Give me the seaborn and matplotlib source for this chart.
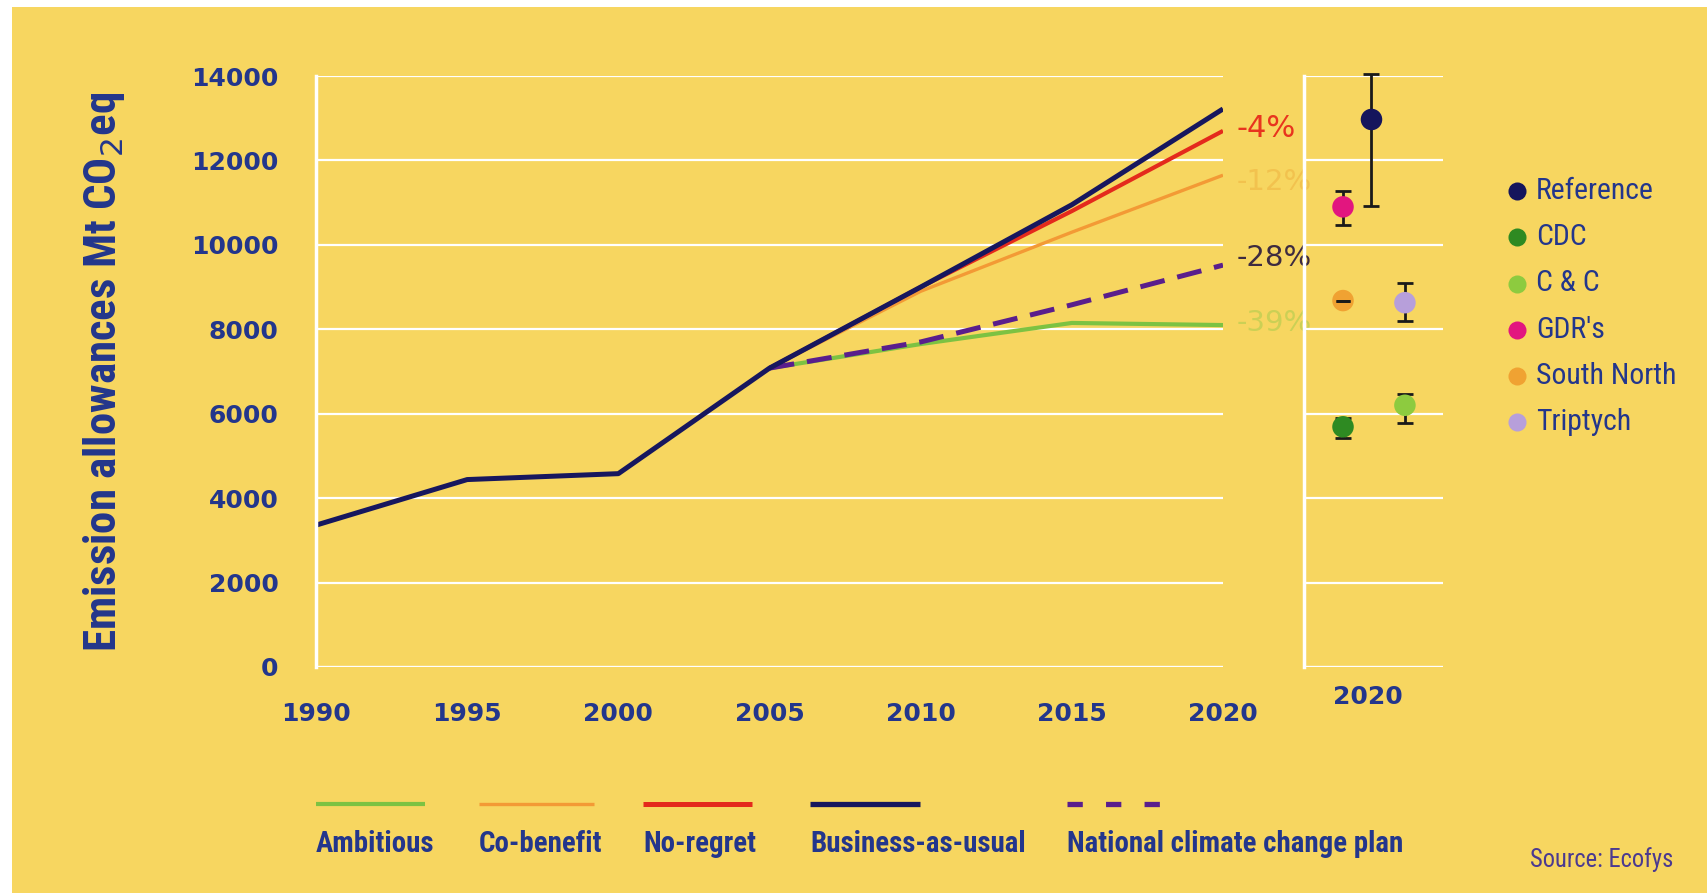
import matplotlib
matplotlib.use("Agg")
import matplotlib.pyplot as plt
from matplotlib.lines import Line2D
from matplotlib.patches import Rectangle
from matplotlib import font_manager
import numpy as np
import pandas as pd
import seaborn as sns

# ---------------- data ----------------
years_hist = [1990, 1995, 2000, 2005, 2010, 2015, 2020]
bau = [3360, 4440, 4580, 7080, 9000, 10950, 13220]
years_scen = [2005, 2010, 2015, 2020]
ambitious = [7080, 7650, 8150, 8100]
co_benefit = [7080, 8900, 10300, 11650]
no_regret = [7080, 9000, 10800, 12700]
national_plan = [7080, 7700, 8580, 9520]

pct_labels = ["-4%", "-12%", "-28%", "-39%"]
pct_values = [12750, 11500, 9700, 8150]

methods = ["GDR's", "South North", "CDC", "Reference", "Triptych", "C & C"]
method_values = [10900, 8680, 5690, 12970, 8630, 6200]
method_low = [10460, 8650, 5420, 10920, 8200, 5770]
method_high = [11280, 8710, 5900, 14050, 9090, 6460]
legend_methods = ["Reference", "CDC", "C & C", "GDR's", "South North", "Triptych"]

y_ticks = [0, 2000, 4000, 6000, 8000, 10000, 12000, 14000]
x_ticks = [1990, 1995, 2000, 2005, 2010, 2015, 2020]

# ---------------- style ----------------
BG = "#F7D660"
BLUE = "#23368C"
col = {
    "Ambitious": "#7DC242",
    "Co-benefit": "#F39A35",
    "No-regret": "#E42A1C",
    "Business-as-usual": "#17175E",
    "National climate change plan": "#5A1E8C",
}
mcol = {
    "Reference": "#15155C",
    "CDC": "#2E8A22",
    "C & C": "#8DCB3F",
    "GDR's": "#E2167F",
    "South North": "#F0A232",
    "Triptych": "#B79FDA",
}

sns.set_theme(style="white")
plt.rcParams["font.family"] = ["DejaVu Sans"]

# pick a condensed family if one is installed
_names = {f.name for f in font_manager.fontManager.ttflist}
COND = "DejaVu Sans"
for cand in ["Liberation Sans Narrow", "Roboto Condensed", "Open Sans Condensed",
             "DejaVu Sans Condensed", "Noto Sans Condensed"]:
    if cand in _names:
        COND = cand
        break

fig = plt.figure(figsize=(17.08, 8.93), dpi=100)
fig.patch.set_facecolor(BG)
fig.patches.append(Rectangle((0, 1 - 7 / 893), 1, 7 / 893, transform=fig.transFigure,
                             facecolor="white", edgecolor="none", zorder=-1))
fig.patches.append(Rectangle((0, 0), 12 / 1708, 1, transform=fig.transFigure,
                             facecolor="white", edgecolor="none", zorder=-1))

W, H = 1708, 893
bottom = 1 - 667 / H
height = (667 - 76) / H
ax = fig.add_axes([316 / W, bottom, (1223 - 316) / W, height])
ax2 = fig.add_axes([1304 / W, bottom, (1443 - 1304) / W, height])

# ---------------- main lines ----------------
rows = []
for name, xs, ys in [
    ("Co-benefit", years_scen, co_benefit),
    ("No-regret", years_scen, no_regret),
    ("Ambitious", years_scen, ambitious),
    ("National climate change plan", years_scen, national_plan),
    ("Business-as-usual", years_hist, bau),
]:
    for x, y in zip(xs, ys):
        rows.append({"year": x, "value": y, "scenario": name})
df = pd.DataFrame(rows)

widths = {"Co-benefit": 2.4, "No-regret": 3.0, "Ambitious": 3.0,
          "National climate change plan": 3.6, "Business-as-usual": 3.6}
for name in ["Co-benefit", "No-regret", "Ambitious", "National climate change plan", "Business-as-usual"]:
    sub = df[df["scenario"] == name]
    sns.lineplot(data=sub, x="year", y="value", ax=ax, color=col[name],
                 linewidth=widths[name], legend=False,
                 linestyle=(0, (5, 2.6)) if name == "National climate change plan" else "-",
                 solid_capstyle="butt", dash_capstyle="butt")

pct_colors = ["#E8341E", "#F2C24E", "#3E2B40", "#CBD055"]
pct_sizes = [22, 21, 21, 21]
for lab, v, c, fs in zip(pct_labels, pct_values, pct_colors, pct_sizes):
    ax.text(2020.45, v, lab, color=c, fontsize=fs, ha="left", va="center", clip_on=False)

# ---------------- axes styling ----------------
for a in (ax, ax2):
    a.set_facecolor("none")
    a.set_ylim(0, 14000)
    a.set_yticks(y_ticks)
    a.grid(False)
    for s in ["top", "right", "bottom"]:
        a.spines[s].set_visible(False)
    a.spines["left"].set_color("white")
    a.spines["left"].set_linewidth(2.5)
    for yv in y_ticks:
        a.axhline(yv, color="white", linewidth=1.6 if yv else 2.4, zorder=0)
    a.tick_params(axis="y", length=14, width=1.6, color="white", pad=13,
                  labelsize=18, labelcolor=BLUE)
    a.tick_params(axis="x", length=12, width=1.6, color="white", pad=13,
                  labelsize=18, labelcolor=BLUE)

ax.set_xlim(1990, 2020)
ax.set_xticks(x_ticks)
ax.set_xticklabels([str(t) for t in x_ticks], fontweight="bold")
ax.set_yticklabels([str(t) for t in y_ticks], fontweight="bold")
ax.set_xlabel("")
ylab = ax.set_ylabel("Emission allowances Mt CO$_2$eq", fontsize=27, fontweight="bold",
                     color=BLUE, family=COND, labelpad=46)

# ---------------- right panel ----------------
pos = {"GDR's": 0, "South North": 0, "CDC": 0, "Reference": 0.92, "Triptych": 2, "C & C": 2}
mdf = pd.DataFrame({"method": methods, "value": method_values,
                    "low": method_low, "high": method_high})
mdf["x"] = mdf["method"].map(pos)
eb = ax2.errorbar(mdf["x"], mdf["value"],
                  yerr=[mdf["value"] - mdf["low"], mdf["high"] - mdf["value"]],
                  fmt="none", ecolor="#1a1a1a", elinewidth=2.0, capsize=5.5, capthick=2.0, zorder=2)
for art in eb.lines[1] + eb.lines[2]:
    art.set_clip_on(False)
sns.scatterplot(data=mdf, x="x", y="value", hue="method", palette=mcol,
                s=240, edgecolor="none", ax=ax2, legend=False, zorder=3)
sn = mdf[mdf["method"] == "South North"]
ax2.errorbar(sn["x"], sn["value"], yerr=[[0], [0]], fmt="none", ecolor="#1a1a1a",
             capsize=5, capthick=2.0, zorder=4)
ax2.set_xlim(-1.26, 3.23)
ax2.set_xticks([0.8])
ax2.set_xticklabels(["2020"], fontweight="bold")
ax2.tick_params(axis="x", length=0)
ax2.set_yticklabels([])
ax2.set_xlabel("")
ax2.set_ylabel("")

handles = [Line2D([0], [0], marker="o", linestyle="none", markersize=13,
                  markerfacecolor=mcol[m], markeredgecolor="none") for m in legend_methods]
leg = fig.legend(handles, legend_methods, loc="upper left",
                 bbox_to_anchor=(1486 / W, 1 - 157 / H), frameon=False,
                 handletextpad=0.35, labelspacing=0.82, handlelength=1.0,
                 prop={"family": COND, "size": 16})
for t in leg.get_texts():
    t.set_color(BLUE)

# ---------------- bottom legend ----------------
items = [
    ("Ambitious", 316, 425, 3.0, "-"),
    ("Co-benefit", 479, 594, 2.4, "-"),
    ("No-regret", 643, 752, 3.6, "-"),
    ("Business-as-usual", 810, 920, 3.8, "-"),
    ("National climate change plan", 1067, 1165, 3.8, (0, (2.9, 4.4))),
]
btexts = []
for name, x0, x1, lw, ls in items:
    fig.add_artist(Line2D([x0 / W, x1 / W], [1 - 804 / H] * 2, color=col[name],
                          linewidth=lw, linestyle=ls, transform=fig.transFigure,
                          solid_capstyle="butt", dash_capstyle="butt"))
    btexts.append(fig.text(x0 / W, 1 - 844 / H, name, color=BLUE, fontsize=17,
                           fontweight="bold", family=COND, ha="left", va="center"))

src = fig.text(1530 / W, 1 - 860 / H, "Source: Ecofys", color="#4B3A90", fontsize=14,
               family=COND, ha="left", va="center")

# fit text lengths to the reference layout
fig.canvas.draw()
r = fig.canvas.get_renderer()
h = ylab.get_window_extent(r).height
ylab.set_fontsize(27 * 561 / h)
wnat = btexts[-1].get_window_extent(r).width
scale = 336 / wnat
for t in btexts:
    t.set_fontsize(17 * scale)
wl = max(t.get_window_extent(r).width for t in leg.get_texts())
for t in leg.get_texts():
    t.set_fontsize(16 * 140 / wl)
ws = src.get_window_extent(r).width
src.set_fontsize(14 * 144 / ws)

fig.savefig("out.png", dpi=100, facecolor=BG)
